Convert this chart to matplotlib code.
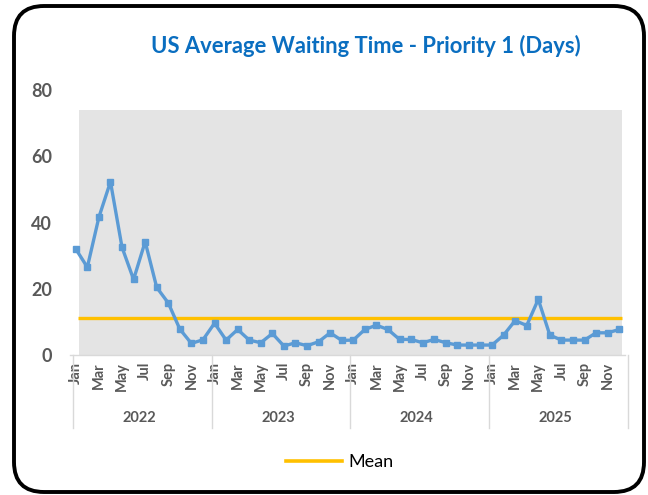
import matplotlib.pyplot as plt
import matplotlib.transforms as mtransforms
from matplotlib.patches import Rectangle, FancyBboxPatch
from matplotlib.lines import Line2D

years = ["2022", "2023", "2024", "2025"]
months = ["Jan", "Feb", "Mar", "Apr", "May", "Jun",
          "Jul", "Aug", "Sep", "Oct", "Nov", "Dec"]

# average waiting time, days, Jan 2022 .. Dec 2025
wait_2022 = [32.0, 26.5, 41.6, 52.3, 32.5, 22.8, 34.2, 20.4, 15.7, 7.8, 3.5, 4.6]
wait_2023 = [9.6, 4.5, 7.7, 4.5, 3.7, 6.5, 2.7, 3.7, 2.8, 4.0, 6.7, 4.4]
wait_2024 = [4.5, 7.7, 9.0, 7.7, 4.7, 4.7, 3.7, 4.7, 3.7, 3.0, 3.0, 3.0]
wait_2025 = [3.0, 6.0, 10.4, 8.9, 16.8, 6.0, 4.5, 4.5, 4.5, 6.7, 6.7, 7.7]
mean_wait = 11.3

values = wait_2022 + wait_2023 + wait_2024 + wait_2025
x = list(range(len(values)))

FONT = "Lato"
GREY_TXT = "#595959"

fig = plt.figure(figsize=(6.48, 4.95), dpi=100)

# rounded black frame around the chart
frame = FancyBboxPatch((0.14, 0.03), 6.3, 4.86,
                       boxstyle="round,pad=0,rounding_size=0.3",
                       transform=fig.dpi_scale_trans, facecolor="white",
                       edgecolor="black", linewidth=2.8, zorder=-5)
fig.patches.append(frame)

# axes: x in px 70..625, y in px 90..355
ax = fig.add_axes([70 / 648, 1 - 355 / 495, 555 / 648, 265 / 495])
ax.set_facecolor("none")
ax.set_xlim(-0.5, len(values) - 0.5)
ax.set_ylim(0, 80)

# grey plot area
ax.add_patch(Rectangle((0.28, 0), 46.96, 74, facecolor="#E4E4E4",
                       edgecolor="none", zorder=0))

ax.hlines(mean_wait, 0.2, 47.24, color="#FFC000", linewidth=2.4, zorder=2)
ax.plot(x, values, color="#5B9BD5", linewidth=2.4, marker="s",
        markersize=5, solid_joinstyle="round", zorder=3, clip_on=False)

for s in ["top", "right", "left"]:
    ax.spines[s].set_visible(False)
ax.spines["bottom"].set_color("#D9D9D9")
ax.spines["bottom"].set_linewidth(1)

ax.set_yticks([0, 20, 40, 60, 80])
ax.tick_params(axis="y", length=0, pad=13)
for lab in ax.get_yticklabels():
    lab.set_fontfamily(FONT)
    lab.set_fontweight("bold")
    lab.set_fontsize(13)
    lab.set_color(GREY_TXT)

month_labels = [months[i % 12] for i in x]
ax.set_xticks(x[::2])
ax.set_xticklabels(month_labels[::2], rotation=90, fontfamily=FONT,
                   fontweight="bold", fontsize=10.5, color=GREY_TXT)
ax.tick_params(axis="x", length=0, pad=5)

trans = mtransforms.blended_transform_factory(ax.transData, ax.transAxes)
for k in range(len(years) + 1):
    xs = -0.25 + 12 * k
    ax.add_line(Line2D([xs, xs], [0, -0.275], transform=trans,
                       color="#D9D9D9", linewidth=1, clip_on=False))
for k, yr in enumerate(years):
    ax.text(5.5 + 12 * k, -0.238, yr, transform=trans, ha="center",
            va="center", fontfamily=FONT, fontweight="bold", fontsize=10.5,
            color=GREY_TXT)

fig.text(366 / 648, 1 - 46 / 495, "US Average Waiting Time - Priority 1 (Days)",
         ha="center", va="center", fontfamily=FONT, fontweight="bold",
         fontsize=15.8, color="#0A6EC0")

mean_handle = Line2D([], [], color="#FFC000", linewidth=2.6)
fig.legend([mean_handle], ["Mean"], loc="center",
           bbox_to_anchor=(340 / 648, 1 - 462 / 495), frameon=False,
           handlelength=3.1, handletextpad=0.35,
           prop={"family": FONT, "size": 13})

fig.savefig("out.png", dpi=100)
